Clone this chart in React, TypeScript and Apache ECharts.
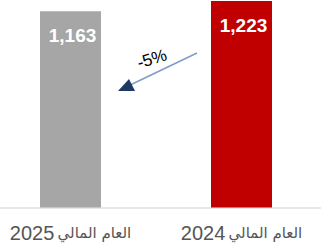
import React, { useEffect, useRef } from "react";
import * as echarts from "echarts";

const categoryYears = ["2025", "2024"];
const categoryPrefix = "العام المالي";
const values = [1163, 1223];
const barColors = ["#a6a6a6", "#c00000"];
const changeLabel = "-5%";

export default function App() {
  const ref = useRef<HTMLDivElement>(null);
  useEffect(() => {
    const chart = echarts.init(ref.current!, null, { renderer: "svg" });
    const categories = categoryYears.map((y) => categoryPrefix + " " + y);
    chart.setOption({
      animation: false,
      grid: { left: -15, right: -6, top: 1, bottom: 42.5, containLabel: false, outerBoundsMode: "none" },
      xAxis: {
        type: "category",
        data: categories,
        axisLine: { lineStyle: { color: "#e0e0e0", width: 1.5 } },
        axisTick: { show: false },
        axisLabel: {
          interval: 0,
          margin: 15,
          formatter: (v: string, i: number) => `{num|${categoryYears[i]}} {ar|${categoryPrefix}}`,
          rich: {
            num: { color: "#555555", fontSize: 20, fontFamily: "Liberation Sans, Arial, sans-serif" },
            ar: { color: "#555555", fontSize: 15, fontFamily: "DejaVu Sans, sans-serif" },
          },
        },
      },
      yAxis: { type: "value", min: 0, max: 1223, show: false },
      series: [
        {
          type: "bar",
          barWidth: 61,
          data: values.map((v, i) => ({ value: v, itemStyle: { color: barColors[i] } })),
          label: {
            show: true,
            position: "insideTop",
            distance: 14.5,
            offset: [2, 0],
            color: "#ffffff",
            fontSize: 19,
            fontWeight: "bold",
            fontFamily: "Liberation Sans, Arial, sans-serif",
            formatter: (p: any) => p.value.toLocaleString("en-US"),
          },
        },
      ],
      graphic: [
        {
          type: "line",
          shape: { x1: 197, y1: 53, x2: 126, y2: 87 },
          style: { stroke: "#7f9bc9", lineWidth: 1.5 },
        },
        {
          type: "polygon",
          shape: { points: [[118, 91], [129, 79], [135, 91]] },
          style: { fill: "#1f3864" },
        },
        {
          type: "text",
          x: 152,
          y: 59,
          rotation: 0.3,
          style: {
            text: changeLabel,
            fill: "#000000",
            fontSize: 17,
            fontFamily: "Liberation Sans, Arial, sans-serif",
            align: "center",
            verticalAlign: "middle",
          },
        },
      ],
    });
    return () => chart.dispose();
  }, []);
  return <div ref={ref} style={{ width: 321, height: 250, position: "absolute", left: 0, top: 0 }} />;
}
